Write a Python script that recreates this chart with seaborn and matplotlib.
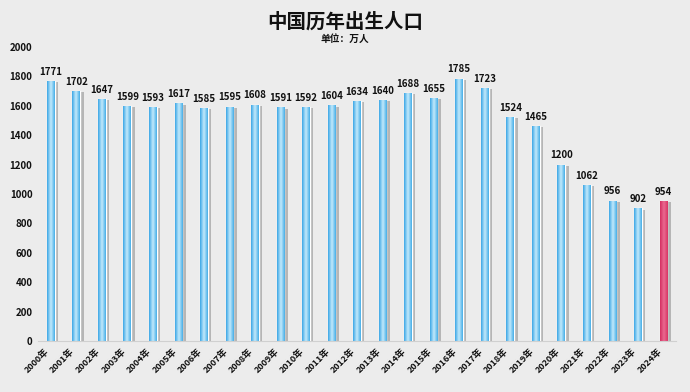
import numpy as np
import pandas as pd
import seaborn as sns
import matplotlib
matplotlib.use("Agg")
import matplotlib.pyplot as plt
import matplotlib.patheffects as pe
import matplotlib.transforms as mtransforms
from matplotlib.colors import LinearSegmentedColormap

years = [f"{y}年" for y in range(2000, 2025)]
births = [1771, 1702, 1647, 1599, 1593, 1617, 1585, 1595, 1608, 1591, 1592, 1604,
          1634, 1640, 1688, 1655, 1785, 1723, 1524, 1465, 1200, 1062, 956, 902, 954]
yticks = [0, 200, 400, 600, 800, 1000, 1200, 1400, 1600, 1800, 2000]
title = "中国历年出生人口"
subtitle = "单位：万人"

sns.set_theme(style="white")
plt.rcParams['font.family'] = ['Noto Sans CJK SC', 'DejaVu Sans']

bg = "#ececec"
df = pd.DataFrame({"year": years, "births": births})
palette = ["#52b4e8"] * (len(years) - 1) + ["#dc3a68"]

fig = plt.figure(figsize=(6.9, 3.92), dpi=100, facecolor=bg)
ax = fig.add_axes([0.055, 0.130, 0.925, 0.750], facecolor=bg)

sns.barplot(data=df, x="year", y="births", hue="year", palette=palette,
            legend=False, width=0.30, ax=ax, saturation=1)

blue_cm = LinearSegmentedColormap.from_list("b", ["#3aa6e6", "#c4eafb", "#45ade7"])
red_cm = LinearSegmentedColormap.from_list("r", ["#d42e60", "#ea6a90", "#d83564"])
grad = np.linspace(0, 1, 64).reshape(1, -1)
for i, p in enumerate(ax.patches):
    p.set_path_effects([pe.SimplePatchShadow(offset=(2.5, -1), shadow_rgbFace="#8a8a8a", alpha=0.55),
                        pe.Normal()])
    x0, w, h = p.get_x(), p.get_width(), p.get_height()
    cm = red_cm if i == len(ax.patches) - 1 else blue_cm
    im = ax.imshow(grad, cmap=cm, aspect="auto", extent=(x0, x0 + w, 0, h),
                   zorder=p.get_zorder() + 0.1, interpolation="bilinear")
    im.set_clip_path(p)
    ax.annotate(f"{births[i]}", (x0 + w / 2, h), xytext=(0, 3), textcoords="offset points",
                ha="center", va="bottom", fontsize=7, fontweight="bold", color="#111111")

ax.set_xlim(-0.5, len(years) - 0.5)
ax.set_ylim(0, 2000)
ax.set_yticks(yticks)
ax.set_yticklabels([str(t) for t in yticks], fontsize=7, fontweight="bold", color="#111111")
ax.set_xlabel("")
ax.set_ylabel("")
offset = mtransforms.ScaledTranslation(-4 / 100, 0, fig.dpi_scale_trans)
for lab in ax.get_xticklabels():
    lab.set_rotation(45)
    lab.set_ha("right")
    lab.set_fontsize(6.5)
    lab.set_fontweight("bold")
    lab.set_color("#111111")
    lab.set_transform(lab.get_transform() + offset)
ax.tick_params(axis="both", length=0, pad=4)
for s in ["top", "right", "left"]:
    ax.spines[s].set_visible(False)
ax.spines["bottom"].set_color("#d0d0d0")
ax.spines["bottom"].set_linewidth(0.8)

fig.text(0.5, 0.945, title, ha="center", va="center", fontsize=14, fontweight="bold", color="#111111")
fig.text(0.5, 0.902, subtitle, ha="center", va="center", fontsize=7, fontweight="bold", color="#111111")

fig.savefig("out.png", dpi=100, facecolor=bg)
